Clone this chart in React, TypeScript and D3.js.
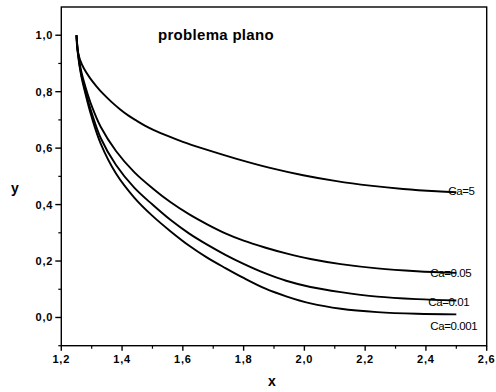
import React from "react";
import * as d3 from "d3";

// Profiles y(x) for the plane problem, one per capillary number
const xs5 = [1.25, 1.252, 1.256, 1.262, 1.275, 1.294, 1.315, 1.338, 1.365, 1.393, 1.42, 1.448, 1.475, 1.503, 1.55, 1.6, 1.667, 1.777, 1.887, 1.996, 2.106, 2.216, 2.325, 2.435, 2.5];
const ys5 = [1.0, 0.96, 0.935, 0.912, 0.881, 0.849, 0.82, 0.792, 0.764, 0.738, 0.716, 0.697, 0.68, 0.665, 0.643, 0.622, 0.598, 0.562, 0.53, 0.504, 0.483, 0.467, 0.455, 0.447, 0.444];

const xsLow = [1.25, 1.255, 1.265, 1.28, 1.3, 1.33, 1.38, 1.44, 1.5, 1.56, 1.62, 1.68, 1.74, 1.8, 1.87, 1.94, 2.02, 2.12, 2.24, 2.37, 2.5];
const ys005 = [1.0, 0.94, 0.875, 0.815, 0.75, 0.675, 0.59, 0.515, 0.458, 0.408, 0.366, 0.33, 0.298, 0.272, 0.248, 0.227, 0.207, 0.189, 0.174, 0.164, 0.158];
const ys001 = [1.0, 0.935, 0.865, 0.8, 0.725, 0.635, 0.54, 0.46, 0.4, 0.345, 0.298, 0.258, 0.222, 0.19, 0.157, 0.13, 0.108, 0.09, 0.074, 0.065, 0.06];
const ys0001 = [1.0, 0.93, 0.86, 0.79, 0.71, 0.615, 0.51, 0.425, 0.36, 0.305, 0.255, 0.212, 0.175, 0.14, 0.103, 0.075, 0.05, 0.031, 0.019, 0.013, 0.011];

const seriesLabels = ["Ca=5", "Ca=0.05", "Ca=0.01", "Ca=0.001"];
const xTicks = [1.2, 1.4, 1.6, 1.8, 2.0, 2.2, 2.4, 2.6];
const yTicks = [0.0, 0.2, 0.4, 0.6, 0.8, 1.0];
const xMinor = [1.3, 1.5, 1.7, 1.9, 2.1, 2.3, 2.5];
const yMinor = [-0.1, 0.1, 0.3, 0.5, 0.7, 0.9];

const W = 496;
const H = 392;
const left = 61.3;
const right = 486.7;
const top = 7;
const bottom = 345.7;

const fmt = (v: number) => v.toFixed(1).replace(".", ",");

export default function App() {
  const x = d3.scaleLinear().domain([1.2, 2.6]).range([left, right]);
  const y = d3.scaleLinear().domain([-0.1, 1.1]).range([bottom, top]);

  const series = [
    { xs: xs5, ys: ys5, label: seriesLabels[0], dx: -8, dy: 3 },
    { xs: xsLow, ys: ys005, label: seriesLabels[1], dx: -26, dy: 4 },
    { xs: xsLow, ys: ys001, label: seriesLabels[2], dx: -28, dy: 5 },
    { xs: xsLow, ys: ys0001, label: seriesLabels[3], dx: -26, dy: 16 },
  ];

  const line = d3
    .line<[number, number]>()
    .x((d) => x(d[0]))
    .y((d) => y(d[1]))
    .curve(d3.curveCatmullRom.alpha(0.5));

  const tickFont = {
    fontFamily: "'Liberation Sans', Arial, sans-serif",
    fontWeight: 700,
    fontSize: 11,
    letterSpacing: 0.8,
  } as const;

  return (
    <svg
      width={W}
      height={H}
      style={{ position: "absolute", left: 0, top: 0, background: "#fff" }}
    >
      <rect x={0} y={0} width={W} height={H} fill="#fff" />

      {/* frame */}
      <rect
        x={left}
        y={top}
        width={right - left}
        height={bottom - top}
        fill="none"
        stroke="#000"
        strokeWidth={1.4}
      />

      {/* y axis ticks */}
      {yTicks.map((t) => (
        <g key={"y" + t}>
          <line x1={left - 6} x2={left} y1={y(t)} y2={y(t)} stroke="#000" strokeWidth={1.4} />
          <text
            x={left - 8}
            y={y(t)}
            dy="0.36em"
            textAnchor="end"
            style={tickFont}
          >
            {fmt(t)}
          </text>
        </g>
      ))}
      {yMinor.map((t) => (
        <line key={"ym" + t} x1={left - 3} x2={left} y1={y(t)} y2={y(t)} stroke="#000" strokeWidth={1.2} />
      ))}

      {/* x axis ticks */}
      {xTicks.map((t) => (
        <g key={"x" + t}>
          <line x1={x(t)} x2={x(t)} y1={bottom} y2={bottom + 5} stroke="#000" strokeWidth={1.4} />
          <text x={x(t)} y={bottom + 17} textAnchor="middle" style={tickFont}>
            {fmt(t)}
          </text>
        </g>
      ))}
      {xMinor.map((t) => (
        <line key={"xm" + t} x1={x(t)} x2={x(t)} y1={bottom} y2={bottom + 3} stroke="#000" strokeWidth={1.2} />
      ))}

      {/* axis titles */}
      <text
        x={15}
        y={188}
        dy="0.36em"
        textAnchor="middle"
        style={{ fontFamily: "'Liberation Sans', Arial, sans-serif", fontWeight: 700, fontSize: 14 }}
      >
        y
      </text>
      <text
        x={272}
        y={386}
        textAnchor="middle"
        style={{ fontFamily: "'Liberation Sans', Arial, sans-serif", fontWeight: 700, fontSize: 14 }}
      >
        x
      </text>

      {/* title */}
      <text
        x={158}
        y={40}
        style={{
          fontFamily: "'Liberation Sans', Arial, sans-serif",
          fontWeight: 700,
          fontSize: 15,
          letterSpacing: 0.3,
        }}
      >
        problema plano
      </text>

      {/* curves */}
      {series.map((s) => {
        const pts = s.xs.map((v, i) => [v, s.ys[i]] as [number, number]);
        const last = pts[pts.length - 1];
        return (
          <g key={s.label}>
            <path d={line(pts) ?? ""} fill="none" stroke="#000" strokeWidth={1.9} />
            <text
              x={x(last[0]) + s.dx}
              y={y(last[1]) + s.dy}
              style={{
                fontFamily: "'Liberation Sans', Arial, sans-serif",
                fontSize: 11.5,
                letterSpacing: -0.4,
              }}
            >
              {s.label}
            </text>
          </g>
        );
      })}
    </svg>
  );
}
